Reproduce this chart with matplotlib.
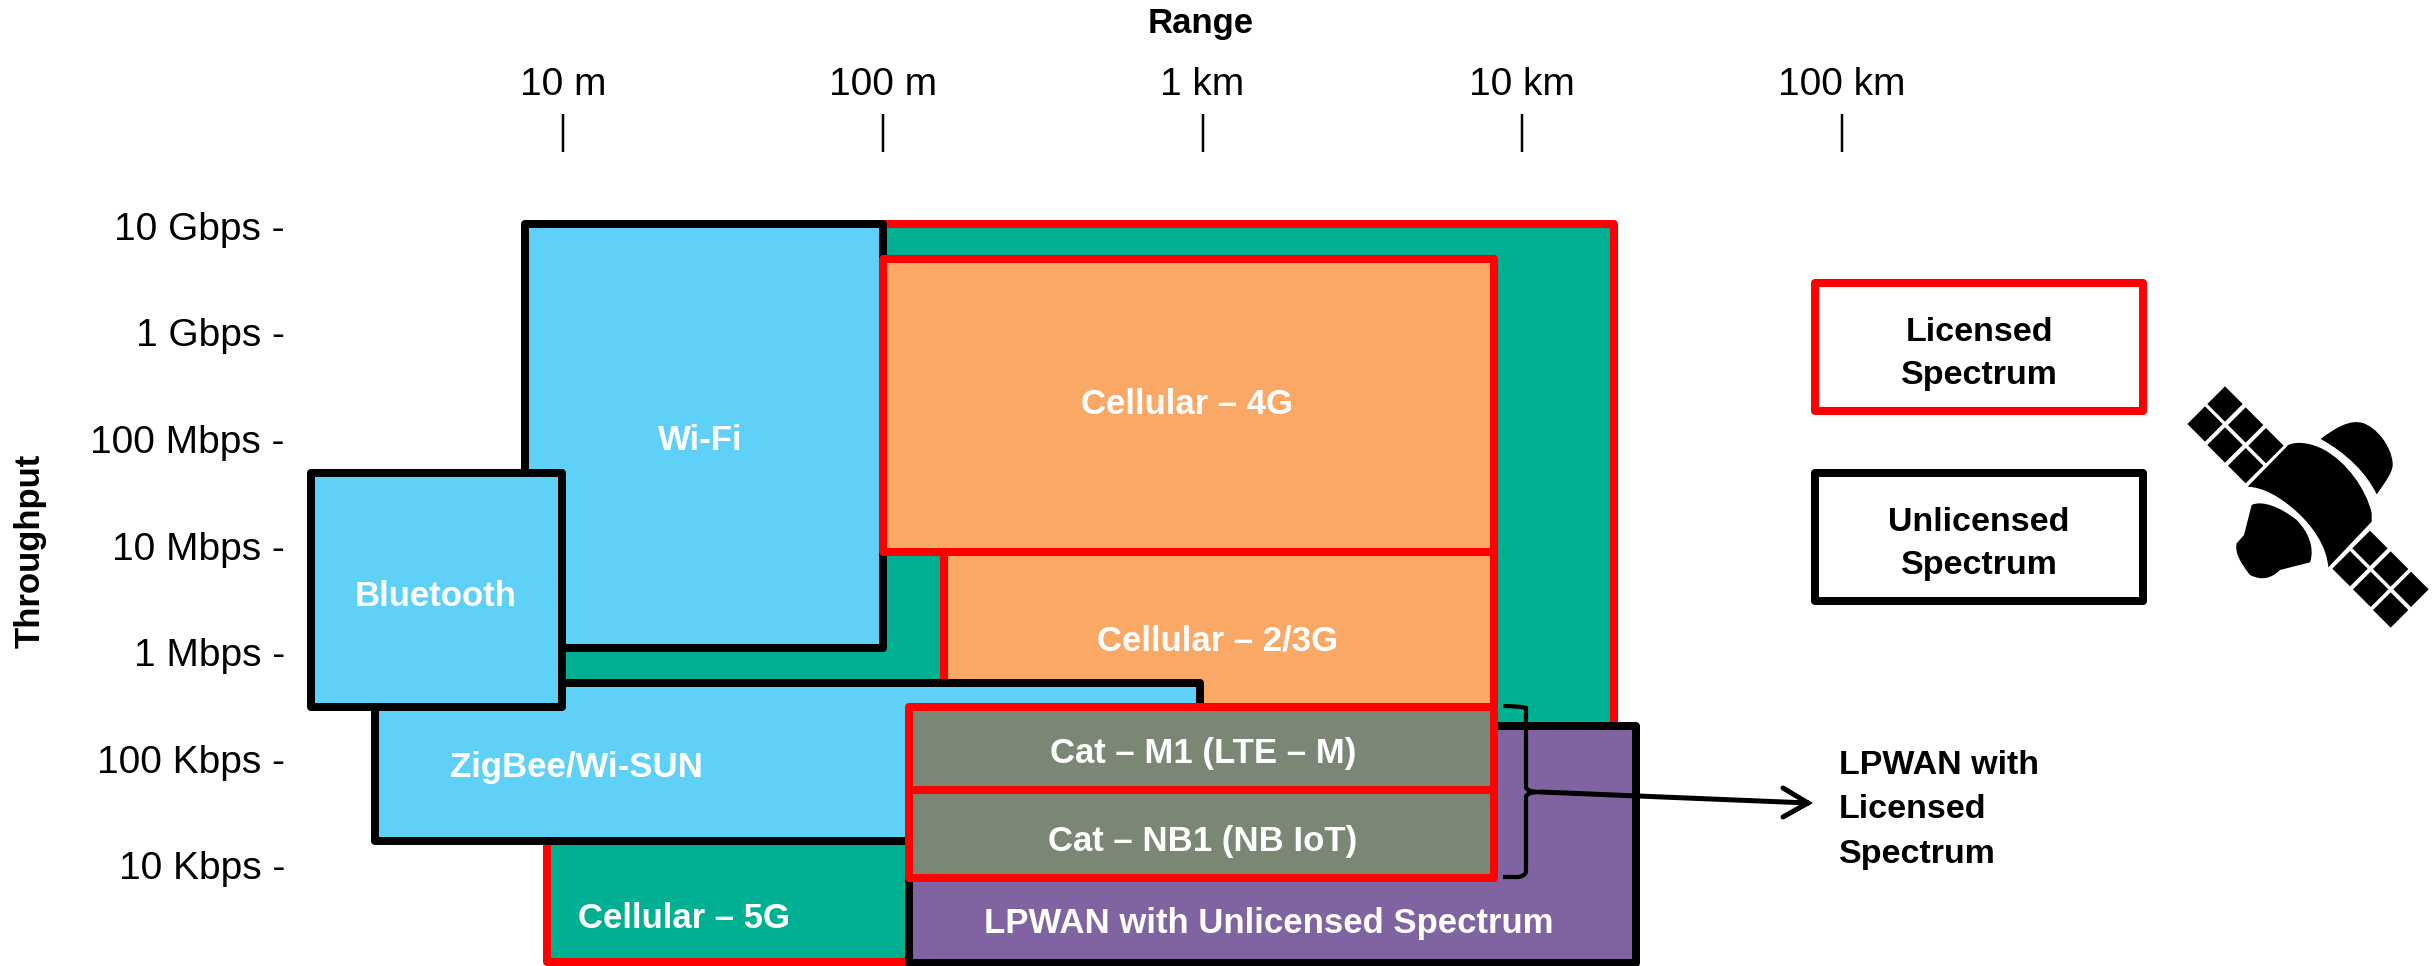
#!/usr/bin/env python3

# Range vs throughput map of wireless technologies, drawn on log-log axes.

import matplotlib
matplotlib.use("Agg")
import matplotlib.pyplot as plt
from matplotlib.patches import PathPatch, Polygon, Rectangle
from matplotlib.path import Path
from matplotlib.transforms import Affine2D

FIG_W, FIG_H = 2433, 966
DPI = 100
PT = 72.0 / DPI

RED = "#FF0000"
BLACK = "#000000"
SKY = "#5FD1F8"
GREEN = "#00B093"
ORANGE = "#F9A866"
GREY = "#7A8775"
PURPLE = "#8064A2"

range_ticks = [10, 100, 1000, 10000, 100000]
range_labels = ["10 m", "100 m", "1 km", "10 km", "100 km"]
rate_ticks = [1e10, 1e9, 1e8, 1e7, 1e6, 1e5, 1e4]
rate_labels = ["10 Gbps -", "1 Gbps -", "100 Mbps -", "10 Mbps -", "1 Mbps -",
               "100 Kbps -", "10 Kbps -"]

# Boxes, back to front. Range in metres, throughput in bit/s.
box_names = ["Cellular 5G", "Wi-Fi", "Cellular 2/3G", "Cellular 4G", "ZigBee",
             "LPWAN", "Bluetooth", "Cat M1", "Cat NB1"]
range_low = [8.9, 7.6, 155, 100, 2.58, 121, 1.63, 121, 121]
range_high = [19360, 100, 8170, 8170, 980, 22700, 9.9, 8170, 8170]
rate_low = [1230, 1.09e6, 3.05e5, 8.7e6, 1.68e4, 1200, 3.05e5, 5.06e4, 7550]
rate_high = [1.05e10, 1.05e10, 8.7e6, 4.9e9, 5.1e5, 2.02e5, 4.8e7, 3.05e5, 5.06e4]
box_fill = [GREEN, SKY, ORANGE, ORANGE, SKY, PURPLE, SKY, GREY, GREY]
box_edge = [RED, BLACK, RED, RED, BLACK, BLACK, BLACK, RED, RED]

# Labels inside the chart, placed in image pixels.
chart_labels = ["Wi-Fi", "Bluetooth", "Cellular – 4G", "Cellular – 2/3G", "ZigBee/Wi-SUN",
                "Cat – M1 (LTE – M)", "Cat – NB1 (NB IoT)", "Cellular – 5G",
                "LPWAN with Unlicensed Spectrum"]
label_x = [700, 436, 1187, 1218, 576, 1203, 1203, 684, 1269]
label_y = [440, 596, 405, 641, 767, 754, 841, 919, 924]

plt.rcParams["font.family"] = ["Liberation Sans", "DejaVu Sans"]

fig = plt.figure(figsize=(FIG_W / DPI, FIG_H / DPI), dpi=DPI)
# Image pixels with the origin top left, for everything off the scales.
px = Affine2D().scale(1, -1).translate(0, FIG_H)

ax_l, ax_t = 300, 152
ax = fig.add_axes([ax_l / FIG_W, 0, (FIG_W - ax_l) / FIG_W, (FIG_H - ax_t) / FIG_H])
ax.set_xscale("log")
ax.set_yscale("log")
ax.set_xlim(1.505, 7.05e6)
ax.set_ylim(1127, 4.95e10)
ax.xaxis.tick_top()
ax.set_xticks(range_ticks, range_labels, fontsize=28)
ax.set_yticks(rate_ticks, rate_labels, fontsize=28)
ax.minorticks_off()
ax.tick_params(axis="x", length=38 * PT, width=2.5 * PT, pad=11 * PT)
ax.tick_params(axis="y", length=0, pad=15 * PT)
for spine in ax.spines.values():
    spine.set_visible(False)
ax.patch.set_visible(False)

ax.xaxis.set_label_position("top")
ax.set_xlabel("Range", fontsize=25, fontweight="bold", va="center")
ax.xaxis.set_label_coords((1201 - ax_l) / (FIG_W - ax_l), (FIG_H - 23) / (FIG_H - ax_t))
ax.set_ylabel("Throughput", fontsize=25, fontweight="bold", va="center")
ax.yaxis.set_label_coords((30 - ax_l) / (FIG_W - ax_l), (FIG_H - 551) / (FIG_H - ax_t))

for x0, x1, y0, y1, fill, edge in zip(range_low, range_high, rate_low, rate_high,
                                      box_fill, box_edge):
    ax.add_patch(Rectangle((x0, y0), x1 - x0, y1 - y0, facecolor=fill, edgecolor=edge,
                           linewidth=8 * PT, joinstyle="round", clip_on=False))

for text, x, y in zip(chart_labels, label_x, label_y):
    fig.text(x, y, text, transform=px, color="white", fontsize=25, fontweight="bold",
             ha="center", va="center", zorder=5)

# Licence key on the right.
for top, edge, lines in [(283, RED, "Licensed\nSpectrum"), (473, BLACK, "Unlicensed\nSpectrum")]:
    fig.add_artist(Rectangle((1814.5, top), 328.5, 128, transform=px, facecolor="white",
                             edgecolor=edge, linewidth=8 * PT, joinstyle="round"))
    fig.text(1979, top + 71, lines, transform=px, color="black", fontsize=24.5,
             fontweight="bold", ha="center", va="center", linespacing=1.5)

fig.text(1839, 810, "LPWAN with\nLicensed\nSpectrum", transform=px, color="black",
         fontsize=24.5, fontweight="bold", ha="left", va="center", linespacing=1.55)

# Brace around the two licensed LPWAN boxes, then the arrow out of it.
brace = Path(
    [(1503, 706), (1520, 706), (1526, 708), (1526, 714), (1526, 787), (1526, 792), (1541, 792),
     (1526, 792), (1526, 797), (1526, 871), (1526, 876), (1518, 877), (1503, 877)],
    [Path.MOVETO, Path.CURVE3, Path.CURVE3, Path.LINETO, Path.LINETO, Path.CURVE3, Path.CURVE3,
     Path.CURVE3, Path.CURVE3, Path.LINETO, Path.CURVE3, Path.CURVE3, Path.LINETO],
)
fig.add_artist(PathPatch(brace, transform=px, fill=False, edgecolor="black", linewidth=4.2 * PT,
                         zorder=6))
arrow = Path([(1541, 792), (1808, 803), (1783, 788), (1808, 803), (1783, 817)],
             [Path.MOVETO, Path.LINETO, Path.MOVETO, Path.LINETO, Path.LINETO])
fig.add_artist(PathPatch(arrow, transform=px, fill=False, edgecolor="black", linewidth=5 * PT,
                         capstyle="round", joinstyle="miter", zorder=6))

# Satellite icon, traced at three times its size in the image.
sat = Affine2D().scale(1 / 3, 1 / 3).translate(2180, 380) + px
panel_centres = [(135, 72), (197, 135), (258, 197), (75, 132), (135, 195), (197, 257),
                 (570, 505), (632, 567), (693, 628), (510, 566), (572, 628), (632, 690)]
for cx, cy in panel_centres:
    fig.add_artist(Polygon([(cx, cy - 53), (cx + 53, cy), (cx, cy + 53), (cx - 53, cy)],
                           transform=sat, facecolor="black", edgecolor="none"))

C4 = Path.CURVE4
sat_shapes = [
    # body
    ([(203, 320), (325, 195), (345, 185), (385, 185), (430, 208), (500, 245), (560, 330),
      (575, 400), (575, 425), (445, 562), (440, 500), (400, 440), (350, 395), (300, 350),
      (250, 322), (203, 320)],
     [Path.MOVETO, Path.LINETO, C4, C4, C4, C4, C4, C4, Path.LINETO, Path.LINETO,
      C4, C4, C4, C4, C4, C4]),
    # upper dish
    ([(422, 177), (470, 140), (510, 120), (545, 128), (590, 140), (635, 200), (638, 250),
      (640, 270), (625, 295), (590, 343), (560, 280), (500, 220), (422, 177)],
     [Path.MOVETO, C4, C4, C4, C4, C4, C4, C4, C4, Path.LINETO, C4, C4, C4]),
    # lower dish
    ([(215, 375), (245, 360), (300, 380), (350, 420), (385, 455), (405, 505), (390, 547),
      (300, 570), (275, 595), (245, 603), (210, 585), (175, 540), (165, 515), (170, 490),
      (192, 465), (215, 375)],
     [Path.MOVETO, C4, C4, C4, C4, C4, C4, Path.LINETO, C4, C4, C4, C4, C4, C4, Path.LINETO,
      Path.LINETO]),
]
for verts, codes in sat_shapes:
    fig.add_artist(PathPatch(Path(verts, codes), transform=sat, facecolor="black",
                             edgecolor="none"))

fig.savefig("out.png", dpi=DPI)
plt.close(fig)
